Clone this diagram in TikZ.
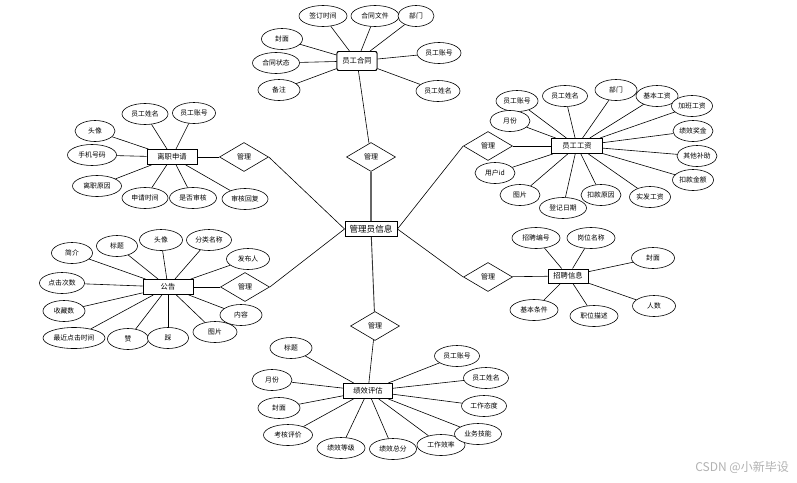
\documentclass[tikz,border=0pt]{standalone}
\usepackage{fontspec}
\newfontfamily\cjk{Noto Sans CJK SC}
\usetikzlibrary{shapes.geometric}
\begin{document}
\begin{tikzpicture}[x=1pt,y=-1pt,
  attr/.style={ellipse,draw,line width=0.6pt,minimum width=44pt,minimum height=21pt,inner sep=0pt,font=\cjk\fontsize{6.8}{7.5}\selectfont,fill=white},
  ent/.style={rectangle,draw,line width=0.9pt,minimum width=50pt,minimum height=15pt,inner sep=1pt,font=\cjk\fontsize{7.3}{8}\selectfont,fill=white},
  rel/.style={diamond,draw,line width=0.6pt,minimum width=49pt,minimum height=29pt,inner sep=0pt,font=\cjk\fontsize{7}{8}\selectfont,fill=white},
  conn/.style={line width=0.6pt}]
\useasboundingbox (0,0) rectangle (797,482);
\fill[white] (0,0) rectangle (797,482);
% central entity
\node[ent,minimum width=52pt,minimum height=15pt,inner sep=0.5pt,font=\cjk\fontsize{8.6}{9}\selectfont] (c) at (371,229) {管理员信息};
% diamonds
\node[rel] (dT) at (371,157) {管理};
\node[rel] (dRU) at (488,146) {管理};
\node[rel] (dLU) at (244,157) {管理};
\node[rel] (dLL) at (245,287) {管理};
\node[rel] (dRL) at (488,277) {管理};
\node[rel] (dB) at (375,326) {管理};
% entities
\node[ent,minimum width=40pt,minimum height=19pt,rounded corners=2pt] (eHT) at (357,61) {员工合同};
\node[ent,minimum width=51pt] (eGZ) at (577,146) {员工工资};
\node[ent] (eLZ) at (172,157) {离职申请};
\node[ent] (eGG) at (168,287) {公告};
\node[ent,minimum width=40pt,minimum height=14pt] (eZP) at (568,276) {招聘信息};
\node[ent,minimum width=49pt] (eJX) at (368,391) {绩效评估};
% central links
\draw[conn,line width=1.2pt,black!60] (c) -- (dT);
\draw[conn] (c.east) -- (dRU.west);
\draw[conn] (c.east) -- (dRL.west);
\draw[conn] (c.west) -- (dLU.east);
\draw[conn] (c.west) -- (dLL.east);
\draw[conn,line width=0.9pt,black!80] (c) -- (dB);
\draw[conn] (dT) -- (eHT);
\draw[conn] (dRU) -- (eGZ);
\draw[conn] (dLU) -- (eLZ);
\draw[conn] (dLL) -- (eGG);
\draw[conn] (dRL) -- (eZP);
\draw[conn] (dB) -- (eJX);
% 员工合同 attributes
\node[attr,minimum width=48pt] (ht1) at (323,16) {签订时间};
\node[attr,minimum width=48pt] (ht2) at (375,16) {合同文件};
\node[attr,minimum width=36pt] (ht3) at (416,16) {部门};
\node[attr,minimum width=41pt] (ht4) at (282,39) {封面};
\node[attr,minimum width=47pt] (ht5) at (276,63) {合同状态};
\node[attr,minimum width=42pt] (ht6) at (279,90) {备注};
\node[attr] (ht7) at (439,53) {员工账号};
\node[attr] (ht8) at (438,91) {员工姓名};
\foreach \n in {ht1,ht2,ht3,ht4,ht5,ht6,ht7,ht8} \draw[conn] (eHT) -- (\n);
\node[ent,minimum width=40pt,minimum height=19pt,rounded corners=2pt] at (357,61) {员工合同};
% 员工工资 attributes
\node[attr,minimum width=42pt] (gz1) at (517,101) {员工账号};
\node[attr,minimum width=45pt] (gz2) at (565,96) {员工姓名};
\node[attr,minimum width=42pt] (gz3) at (616,90) {部门};
\node[attr,minimum width=42pt] (gz4) at (657,96) {基本工资};
\node[attr,minimum width=41pt] (gz5) at (692,106) {加班工资};
\node[attr,minimum width=40pt] (gz6) at (693,131) {绩效奖金};
\node[attr,minimum width=40pt] (gz7) at (697,156) {其他补助};
\node[attr,minimum width=41pt] (gz8) at (693,180) {扣款金额};
\node[attr,minimum width=41pt] (gz9) at (650,197) {实发工资};
\node[attr,minimum width=40pt] (gz10) at (601,195) {扣款原因};
\node[attr,minimum width=47pt] (gz11) at (563,208) {登记日期};
\node[attr,minimum width=40pt] (gz12) at (520,195) {图片};
\node[attr,minimum width=40pt] (gz13) at (495,173) {用户id};
\node[attr,minimum width=40pt] (gz14) at (510,121) {月份};
\foreach \n in {gz1,gz2,gz3,gz4,gz5,gz6,gz7,gz8,gz9,gz10,gz11,gz12,gz13,gz14} \draw[conn] (eGZ) -- (\n);
\node[ent,minimum width=51pt] at (577,146) {员工工资};
% 离职申请 attributes
\node[attr,minimum width=46pt] (lz1) at (145,114) {员工姓名};
\node[attr,minimum width=43pt] (lz2) at (194,113) {员工账号};
\node[attr,minimum width=40pt] (lz3) at (95,131) {头像};
\node[attr,minimum width=49pt] (lz4) at (92,155) {手机号码};
\node[attr,minimum width=49pt] (lz5) at (97,186) {离职原因};
\node[attr,minimum width=46pt] (lz6) at (145,198) {申请时间};
\node[attr,minimum width=47pt] (lz7) at (193,198) {是否审核};
\node[attr,minimum width=46pt] (lz8) at (245,199) {审核回复};
\foreach \n in {lz1,lz2,lz3,lz4,lz5,lz6,lz7,lz8} \draw[conn] (eLZ) -- (\n);
\node[ent] at (172,157) {离职申请};
% 公告 attributes
\node[attr,minimum width=41pt] (gg1) at (72,253) {简介};
\node[attr,minimum width=41pt] (gg2) at (117,246) {标题};
\node[attr,minimum width=43pt] (gg3) at (161,240) {头像};
\node[attr,minimum width=45pt] (gg4) at (209,240) {分类名称};
\node[attr,minimum width=43pt] (gg5) at (248,259) {发布人};
\node[attr,minimum width=45pt] (gg6) at (62,283) {点击次数};
\node[attr,minimum width=42pt] (gg7) at (64,311) {收藏数};
\node[attr,minimum width=62pt] (gg8) at (74,338) {最近点击时间};
\node[attr,minimum width=41pt] (gg9) at (128,339) {赞};
\node[attr,minimum width=41pt] (gg10) at (168,338) {踩};
\node[attr,minimum width=44pt] (gg11) at (215,332) {图片};
\node[attr,minimum width=42pt] (gg12) at (241,315) {内容};
\foreach \n in {gg1,gg2,gg3,gg4,gg5,gg6,gg7,gg8,gg9,gg10,gg11,gg12} \draw[conn] (eGG) -- (\n);
\node[ent] at (168,287) {公告};
% 招聘信息 attributes
\node[attr,minimum width=48pt] (zp1) at (536,238) {招聘编号};
\node[attr,minimum width=48pt] (zp2) at (591,238) {岗位名称};
\node[attr,minimum width=43pt] (zp3) at (653,258) {封面};
\node[attr,minimum width=43pt] (zp4) at (654,306) {人数};
\node[attr,minimum width=48pt] (zp5) at (594,316) {职位描述};
\node[attr,minimum width=48pt] (zp6) at (534,310) {基本条件};
\foreach \n in {zp1,zp2,zp3,zp4,zp5,zp6} \draw[conn] (eZP) -- (\n);
\node[ent,minimum width=40pt,minimum height=14pt] at (568,276) {招聘信息};
% 绩效评估 attributes
\node[attr,minimum width=42pt] (jx1) at (291,348) {标题};
\node[attr,minimum width=40pt] (jx2) at (272,380) {月份};
\node[attr,minimum width=42pt] (jx3) at (279,408) {封面};
\node[attr,minimum width=49pt] (jx4) at (288,435) {考核评价};
\node[attr,minimum width=48pt] (jx5) at (341,448) {绩效等级};
\node[attr,minimum width=47pt] (jx6) at (393,449) {绩效总分};
\node[attr,minimum width=48pt] (jx7) at (441,445) {工作效率};
\node[attr,minimum width=47pt] (jx8) at (478,434) {业务技能};
\node[attr,minimum width=45pt] (jx9) at (484,406) {工作态度};
\node[attr,minimum width=45pt] (jx10) at (486,378) {员工姓名};
\node[attr,minimum width=45pt] (jx11) at (457,356) {员工账号};
\foreach \n in {jx1,jx2,jx3,jx4,jx5,jx6,jx7,jx8,jx9,jx10,jx11} \draw[conn] (eJX) -- (\n);
\node[ent,minimum width=49pt] at (368,391) {绩效评估};
% watermark
\node[font=\cjk\fontsize{12}{13}\selectfont,text=black!30,anchor=east,inner sep=0pt] (wm) at (789,467) {CSDN @小新毕设};
\end{tikzpicture}
\end{document}
